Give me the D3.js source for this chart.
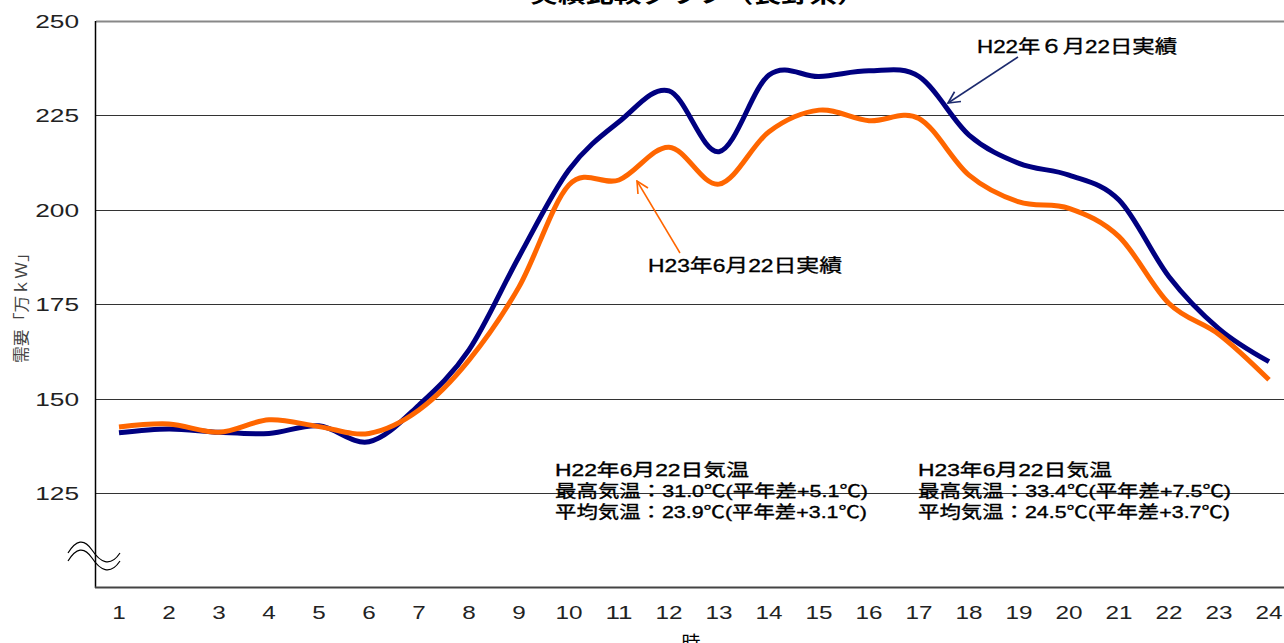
<!DOCTYPE html>
<html>
<head>
<meta charset="utf-8">
<script src="https://cdn.jsdelivr.net/npm/d3@7"></script>
<style>
  body { margin: 0; background: #fff; }
  text { font-family: "Liberation Sans", "Noto Sans CJK JP", sans-serif; }
  .heavy { stroke: #000; stroke-width: 0.35px; }
</style>
</head>
<body>
<script>
// hours and demand (万kW)
const hours = [1, 2, 3, 4, 5, 6, 7, 8, 9, 10, 11, 12, 13, 14, 15, 16, 17, 18, 19, 20, 21, 22, 23, 24];
const demandH22 = [141.0, 142.0, 141.1, 140.8, 142.8, 138.6, 148.3, 162.9, 187.6, 210.6, 223.3, 231.5,
                   215.4, 235.7, 235.3, 236.8, 235.3, 219.8, 212.3, 209.2, 202.6, 182.3, 168.5, 159.8];
const demandH23 = [142.5, 143.3, 141.1, 144.4, 142.6, 140.8, 147.0, 160.2, 179.6, 206.6, 207.9, 216.6,
                   206.8, 220.7, 226.4, 223.6, 224.2, 209.2, 202.1, 200.4, 192.9, 175.2, 167.0, 155.0];
const yTicks = [125, 150, 175, 200, 225, 250];
const seriesNames = ["H22年６月22日実績", "H23年6月22日実績"];
const tempH22 = ["H22年6月22日気温", "最高気温：31.0℃(平年差+5.1℃)", "平均気温：23.9℃(平年差+3.1℃)"];
const tempH23 = ["H23年6月22日気温", "最高気温：33.4℃(平年差+7.5℃)", "平均気温：24.5℃(平年差+3.7℃)"];

const WIDTH = 1284, HEIGHT = 643;
const NAVY = "#000080", ORANGE = "#ff6600";

const svg = d3.select("body").append("svg")
  .attr("width", WIDTH)
  .attr("height", HEIGHT);

const x = d3.scaleBand().domain(hours).range([94, 1294]);
const xc = h => x(h) + x.bandwidth() / 2;
const y = d3.scaleLinear().domain([100, 250]).range([587.5, 21]);

// title (mostly cut off at the top, like the source picture)
svg.append("text")
  .attr("x", 530).attr("y", 2)
  .attr("textLength", 335).attr("lengthAdjust", "spacingAndGlyphs")
  .style("font-size", "22px").style("font-weight", "bold")
  .text("実績比較グラフ（長野県）");

// gridlines
svg.append("g")
  .selectAll("line")
  .data(yTicks)
  .join("line")
    .attr("x1", 96).attr("x2", WIDTH)
    .attr("y1", d => Math.round(y(d)) + 0.5)
    .attr("y2", d => Math.round(y(d)) + 0.5)
    .attr("stroke", d => d === 250 ? "#888" : "#333")
    .attr("stroke-width", d => d === 250 ? 2 : 1);

// y tick labels
svg.append("g")
  .selectAll("text")
  .data(yTicks)
  .join("text")
    .attr("x", 79)
    .attr("y", d => y(d) + 7)
    .attr("text-anchor", "end")
    .attr("textLength", d => String(d).length * 14.6)
    .attr("lengthAdjust", "spacingAndGlyphs")
    .style("font-size", "19px")
    .attr("fill", "#222")
    .text(d => d);

// axes lines
svg.append("line")
  .attr("x1", 95.5).attr("x2", 95.5)
  .attr("y1", 21).attr("y2", 588)
  .attr("stroke", "#000").attr("stroke-width", 1.5);
svg.append("line")
  .attr("x1", 95).attr("x2", WIDTH)
  .attr("y1", 587.5).attr("y2", 587.5)
  .attr("stroke", "#444").attr("stroke-width", 2);

// axis break mark
const brk = svg.append("g").attr("fill", "none").attr("stroke", "#000").attr("stroke-width", 1.2);
[0, 8].forEach(dy => {
  brk.append("path")
    .attr("d", `M68,${553 + dy} C76,${540 + dy} 84,${538 + dy} 92,${550 + dy} S110,${568 + dy} 120,${553 + dy}`);
});

// x tick labels
svg.append("g")
  .selectAll("text")
  .data(hours)
  .join("text")
    .attr("x", d => xc(d))
    .attr("y", 619)
    .attr("text-anchor", "middle")
    .attr("textLength", d => String(d).length * 13.5)
    .attr("lengthAdjust", "spacingAndGlyphs")
    .style("font-size", "19px")
    .attr("fill", "#222")
    .text(d => d);

// axis titles
svg.append("text")
  .attr("x", 691).attr("y", 650)
  .attr("text-anchor", "middle")
  .style("font-size", "19px")
  .text("時");

svg.append("text")
  .attr("transform", "translate(27,304) rotate(-90)")
  .attr("text-anchor", "middle")
  .attr("textLength", 118).attr("lengthAdjust", "spacingAndGlyphs")
  .style("font-size", "16px")
  .attr("fill", "#444")
  .text("需要「万ｋＷ」");

// lines
const line = d3.line()
  .x((d, i) => xc(hours[i]))
  .y(d => y(d))
  .curve(d3.curveCardinal.tension(0));

svg.append("path")
  .datum(demandH22)
  .attr("d", line)
  .attr("fill", "none")
  .attr("stroke", NAVY)
  .attr("stroke-width", 5);

svg.append("path")
  .datum(demandH23)
  .attr("d", line)
  .attr("fill", "none")
  .attr("stroke", ORANGE)
  .attr("stroke-width", 5);

// arrow markers
const defs = svg.append("defs");
[["arrNavy", "#1c2a6e"], ["arrOrange", ORANGE]].forEach(([id, c]) => {
  defs.append("marker")
    .attr("id", id)
    .attr("viewBox", "0 0 12 12")
    .attr("refX", 11).attr("refY", 6)
    .attr("markerWidth", 14).attr("markerHeight", 14)
    .attr("markerUnits", "userSpaceOnUse")
    .attr("orient", "auto")
    .append("path")
      .attr("d", "M1,1 L11,6 L1,11")
      .attr("fill", "none")
      .attr("stroke", c)
      .attr("stroke-width", 1.4);
});

// series labels with arrows
svg.append("line")
  .attr("x1", 1018).attr("y1", 57).attr("x2", 948).attr("y2", 103)
  .attr("stroke", "#1c2a6e").attr("stroke-width", 1.5)
  .attr("marker-end", "url(#arrNavy)");
svg.append("text")
  .attr("class", "heavy")
  .attr("x", 977).attr("y", 53)
  .attr("textLength", 200).attr("lengthAdjust", "spacingAndGlyphs")
  .style("font-size", "18px")
  .text(seriesNames[0]);

svg.append("line")
  .attr("x1", 680).attr("y1", 253).attr("x2", 637).attr("y2", 181)
  .attr("stroke", ORANGE).attr("stroke-width", 1.5)
  .attr("marker-end", "url(#arrOrange)");
svg.append("text")
  .attr("class", "heavy")
  .attr("x", 648).attr("y", 272)
  .attr("textLength", 194).attr("lengthAdjust", "spacingAndGlyphs")
  .style("font-size", "18px")
  .text(seriesNames[1]);

// temperature notes
const noteWidths = [194, 313, 312];
[[555, tempH22], [918, tempH23]].forEach(([x0, lines]) => {
  svg.append("g")
    .selectAll("text")
    .data(lines)
    .join("text")
      .attr("class", "heavy")
      .attr("x", x0)
      .attr("y", (d, i) => 476 + i * 20.8)
      .attr("textLength", (d, i) => noteWidths[i])
      .attr("lengthAdjust", "spacingAndGlyphs")
      .style("font-size", "17px")
      .text(d => d);
});
</script>
</body>
</html>
